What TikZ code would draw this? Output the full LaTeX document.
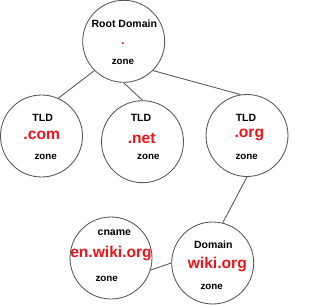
\documentclass[tikz,border=0pt]{standalone}
\usepackage{fontspec}
\setmainfont{Liberation Sans}
\definecolor{dnsred}{RGB}{232,22,26}
\definecolor{ringgray}{RGB}{85,85,85}
\begin{document}
\begin{tikzpicture}[x=1pt,y=-1pt,
  zonecircle/.style={circle,draw=ringgray,line width=0.85pt,minimum size=82pt,inner sep=0pt},
  link/.style={draw=ringgray,line width=0.85pt},
  lab/.style={font=\fontsize{10.5}{12}\selectfont\bfseries,text=black,inner sep=0pt},
  zonelab/.style={font=\fontsize{9.8}{11}\selectfont\bfseries,text=black,inner sep=0pt},
  dnsname/.style={font=\fontsize{15.6}{18}\selectfont\bfseries,text=dnsred,inner sep=0pt}]
\useasboundingbox (0,0) rectangle (330,305);
\node[zonecircle] (root) at (123.7,41.3) {};
\node[zonecircle] (com) at (41.5,136) {};
\node[zonecircle] (net) at (142.5,141.7) {};
\node[zonecircle] (org) at (247,135.5) {};
\node[zonecircle] (cname) at (111,258) {};
\node[zonecircle] (dom) at (212.7,263) {};
\draw[link] (root.225) -- (com.66);
\draw[link] (root.270) -- (net.90);
\draw[link] (root.315) -- (org.99);
\draw[link] (org.270) -- (dom.76);
\draw[link] (cname.343) -- (dom.180);
\node[lab] (rootl) at (124.3,23.3) {Root Domain};
\node[dnsname,font=\fontsize{12}{14}\selectfont\bfseries,anchor=base] (rootn) at (122.8,44.6) {.};
\node[zonelab] (rootz) at (123,61.7) {zone};
\node[lab] (coml) at (42.7,118.3) {TLD};
\node[dnsname] (comn) at (41.7,135) {.com};
\node[zonelab] (comz) at (45.7,156.7) {zone};
\node[lab] (netl) at (141,118.3) {TLD};
\node[dnsname] (netn) at (141.7,138.3) {.net};
\node[zonelab] (netz) at (148.3,157) {zone};
\node[lab] (orgl) at (246,118.3) {TLD};
\node[dnsname] (orgn) at (249.3,135) {.org};
\node[zonelab] (orgz) at (246.7,157) {zone};
\node[lab] (cnamel) at (114.3,232.3) {cname};
\node[dnsname] (cnamen) at (111,254) {en.wiki.org};
\node[zonelab] (cnamez) at (106.7,279.3) {zone};
\node[lab] (doml) at (213.3,245) {Domain};
\node[dnsname] (domn) at (217.3,265) {wiki.org};
\node[zonelab] (domz) at (211.7,287.3) {zone};
\end{tikzpicture}
\end{document}
